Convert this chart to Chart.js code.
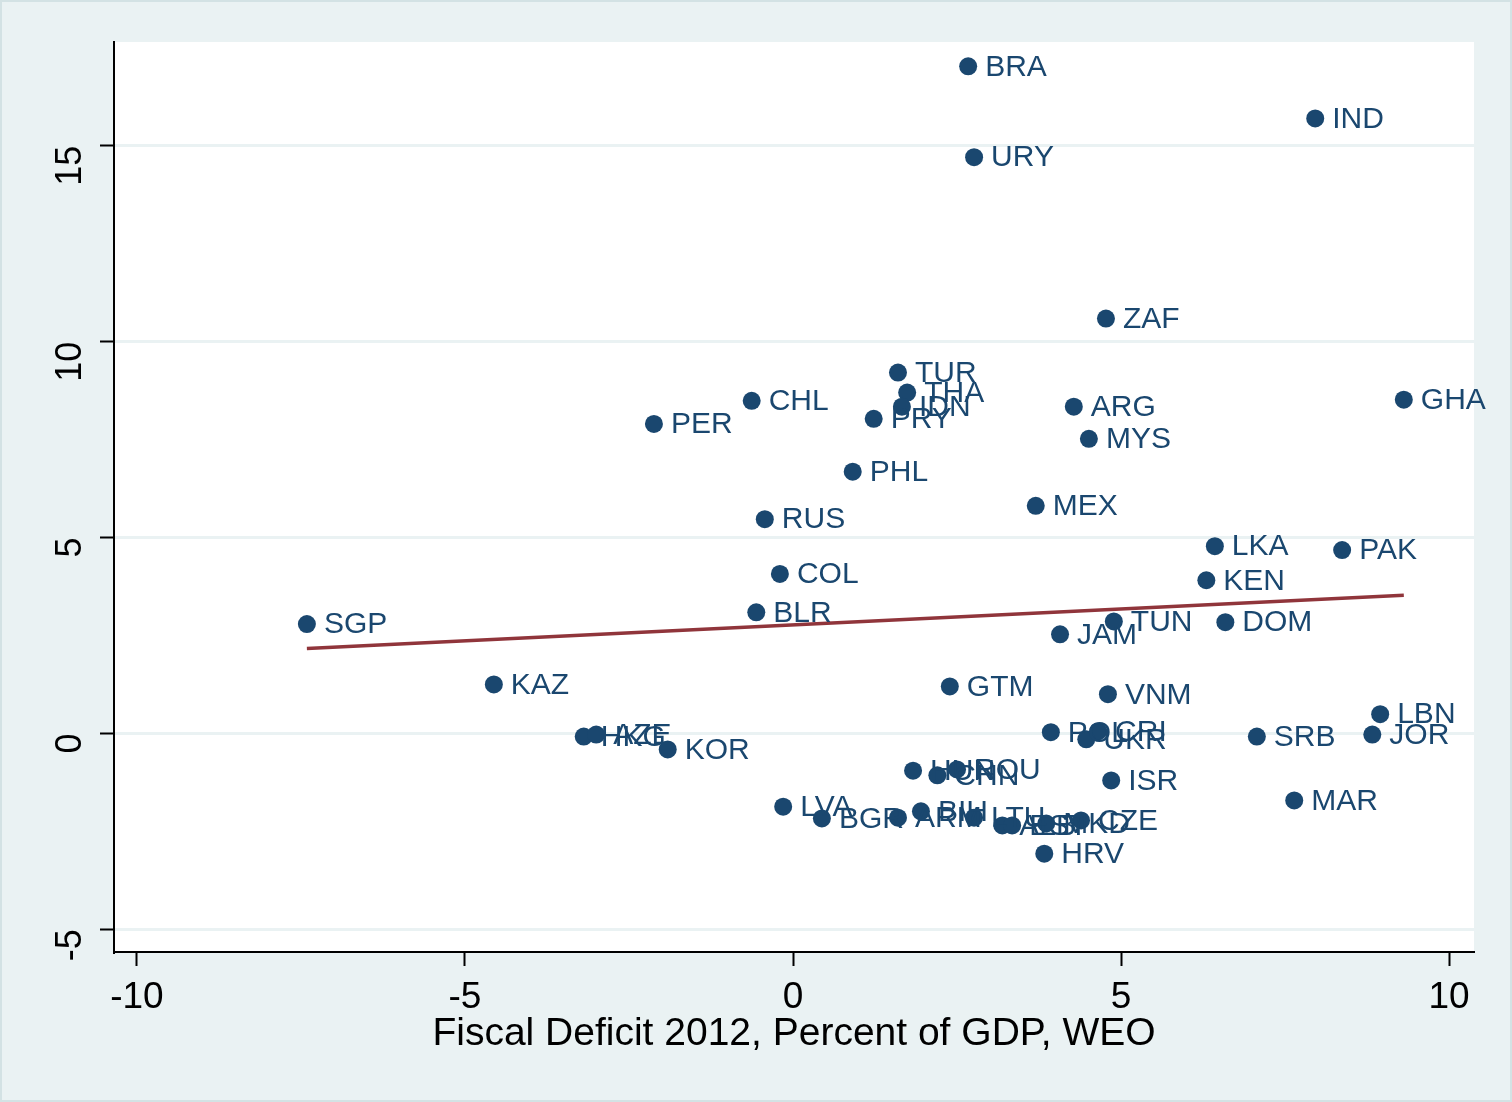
<!DOCTYPE html>
<html>
<head>
<meta charset="utf-8">
<script src="https://cdn.jsdelivr.net/npm/chart.js@4.4.1/dist/chart.umd.min.js"></script>
<style>
  html, body { margin: 0; padding: 0; background: #EAF2F3; }
  #wrap { width: 1512px; height: 1102px; position: relative; }
</style>
</head>
<body>
<div id="wrap"><canvas id="scatter" width="1512" height="1102"></canvas></div>
<script>
// country codes, fiscal deficit (x) and the y variable
var countries = ["BRA","IND","URY","ZAF","TUR","THA","IDN","PRY","CHL","PER",
                 "ARG","MYS","GHA","PHL","MEX","RUS","LKA","PAK","COL","KEN",
                 "BLR","SGP","TUN","DOM","JAM","KAZ","GTM","VNM","LBN","JOR",
                 "HKG","AZE","KOR","POL","CRI","UKR","SRB","HUN","CHN","ROU",
                 "ISR","MAR","LVA","BGR","ARM","BIH","LTU","ALB","EST","MKD",
                 "CZE","HRV"];
var deficit = [2.67, 7.96, 2.76, 4.77, 1.60, 1.74, 1.66, 1.23, -0.63, -2.12,
               4.28, 4.51, 9.31, 0.91, 3.70, -0.43, 6.43, 8.37, -0.20, 6.30,
               -0.56, -7.41, 4.89, 6.59, 4.07, -4.56, 2.39, 4.80, 8.95, 8.83,
               -3.19, -3.00, -1.91, 3.93, 4.65, 4.47, 7.07, 1.83, 2.20, 2.50,
               4.85, 7.64, -0.15, 0.44, 1.60, 1.95, 2.76, 3.19, 3.34, 3.86,
               4.39, 3.83];
var yvals = [17.03, 15.70, 14.71, 10.59, 9.21, 8.70, 8.34, 8.03, 8.49, 7.90,
             8.34, 7.52, 8.52, 6.68, 5.81, 5.47, 4.78, 4.68, 4.07, 3.91,
             3.09, 2.79, 2.86, 2.84, 2.53, 1.25, 1.20, 1.00, 0.49, -0.03,
             -0.08, -0.03, -0.41, 0.03, 0.05, -0.15, -0.08, -0.95, -1.07, -0.92,
             -1.20, -1.71, -1.87, -2.17, -2.15, -1.99, -2.15, -2.35, -2.35, -2.30,
             -2.22, -3.07];
// fitted line end points
var fitX = [-7.41, 9.31];
var fitY = [2.17, 3.53];
var xTicks = [-10, -5, 0, 5, 10];
var yTicks = [-5, 0, 5, 10, 15];

var navy = "#1A476F";
var font = "'Liberation Sans', Arial, sans-serif";

var pts = [];
for (var i = 0; i < countries.length; i++) {
    pts.push({x: deficit[i], y: yvals[i]});
}
var fitPts = [];
for (var j = 0; j < fitX.length; j++) {
    fitPts.push({x: fitX[j], y: fitY[j]});
}

var plotBg = {
    id: 'plotBg',
    beforeDraw: function(chart) {
        var c = chart.ctx, a = chart.chartArea;
        c.save();
        c.fillStyle = "#EAF2F3";
        c.fillRect(0, 0, chart.width, chart.height);
        c.strokeStyle = "#D3E2E4";
        c.lineWidth = 2;
        c.strokeRect(1, 1, chart.width - 2, chart.height - 2);
        c.fillStyle = "#FFFFFF";
        c.fillRect(a.left, a.top, a.right - a.left, a.bottom - a.top);
        c.restore();
    }
};

var pointLabels = {
    id: 'pointLabels',
    afterDatasetsDraw: function(chart) {
        var c = chart.ctx;
        var meta = chart.getDatasetMeta(1);
        c.save();
        c.font = "30px " + font;
        c.fillStyle = navy;
        c.textBaseline = "middle";
        c.textAlign = "left";
        meta.data.forEach(function(el, k) {
            c.fillText(countries[k], el.x + 17, el.y + 1);
        });
        c.restore();
    }
};

function keepTicks(list) {
    return function(scale) {
        scale.ticks = list.map(function(v) { return {value: v}; });
    };
}

var ctx = document.getElementById("scatter");
var chart = new Chart(ctx, {
    type: 'scatter',
    data: {
        datasets: [
            {
                type: 'line',
                data: fitPts,
                borderColor: "#90353B",
                borderWidth: 3.5,
                pointRadius: 0,
                fill: false,
                order: 2
            },
            {
                data: pts,
                backgroundColor: navy,
                borderColor: navy,
                borderWidth: 0,
                pointRadius: 9,
                order: 1
            }
        ]
    },
    options: {
        responsive: false,
        animation: false,
        events: [],
        layout: { padding: { top: 42, right: 38, bottom: 44, left: 0 } },
        plugins: {
            legend: { display: false },
            tooltip: { enabled: false }
        },
        scales: {
            x: {
                type: 'linear',
                min: -10.35,
                max: 10.38,
                afterBuildTicks: keepTicks(xTicks),
                afterFit: function(scale) {
                    scale.height = 106;
                    scale.paddingLeft = 0;
                    scale.paddingRight = 0;
                },
                border: { color: "#000", width: 2 },
                grid: { drawOnChartArea: false, tickLength: 14, tickColor: "#000", tickWidth: 2 },
                ticks: { color: "#000", font: { size: 37, family: font }, padding: 10, maxRotation: 0 },
                title: {
                    display: true,
                    text: "Fiscal Deficit 2012, Percent of GDP, WEO",
                    color: "#000",
                    font: { size: 39, family: font },
                    padding: { top: 0, bottom: 0 }
                }
            },
            y: {
                type: 'linear',
                min: -5.58,
                max: 17.65,
                afterBuildTicks: keepTicks(yTicks),
                afterFit: function(scale) {
                    scale.width = 114;
                    scale.paddingTop = 0;
                    scale.paddingBottom = 0;
                },
                border: { color: "#000", width: 2 },
                grid: { color: "#EAF2F3", lineWidth: 3, tickLength: 14, tickColor: "#000", tickWidth: 2 },
                ticks: { color: "#000", font: { size: 36, family: font }, padding: 29, minRotation: 90, maxRotation: 90 }
            }
        }
    },
    plugins: [plotBg, pointLabels]
});
</script>
</body>
</html>
